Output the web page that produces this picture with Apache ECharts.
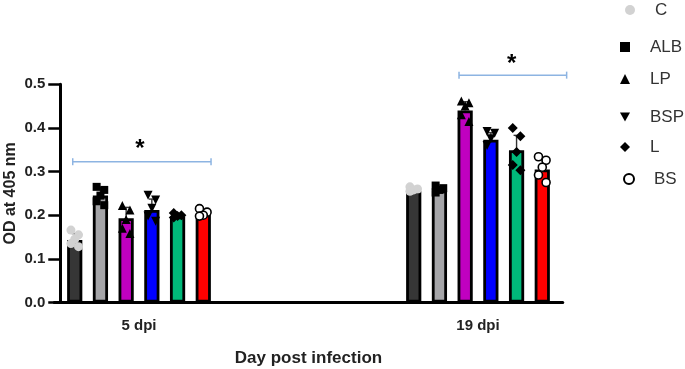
<!DOCTYPE html>
<html>
<head>
<meta charset="utf-8">
<script src="https://cdn.jsdelivr.net/npm/echarts@6/dist/echarts.min.js"></script>
<style>html,body{margin:0;padding:0;background:#fff}#c{width:685px;height:369px}</style>
</head>
<body>
<div id="c"></div>
<script>
// ---- data ----
const categories = ['5 dpi', '', '19 dpi'];
const groups = ['C', 'ALB', 'LP', 'BSP', 'L', 'BS'];
const meanC   = [0.143, '-', 0.255];
const meanALB = [0.245, '-', 0.257];
const meanLP  = [0.193, '-', 0.440];
const meanBSP = [0.212, '-', 0.373];
const meanL   = [0.197, '-', 0.349];
const meanBS  = [0.202, '-', 0.305];
const errC   = [0.015, '-', 0.006];
const errALB = [0.018, '-', 0.006];
const errLP  = [0.025, '-', 0.020];
const errBSP = [0.025, '-', 0.016];
const errL   = [0.005, '-', 0.034];
const errBS  = [0.008, '-', 0.025];
const ptsC   = [[0.166, 0.155, 0.145, 0.135, 0.128], [], [0.265, 0.260, 0.258, 0.255]];
const ptsALB = [[0.265, 0.258, 0.245, 0.232, 0.223], [], [0.268, 0.262, 0.258, 0.252]];
const ptsLP  = [[0.222, 0.212, 0.190, 0.170, 0.158], [], [0.462, 0.458, 0.450, 0.430, 0.415]];
const ptsBSP = [[0.246, 0.235, 0.216, 0.198, 0.186], [], [0.392, 0.388, 0.375, 0.360]];
const ptsL   = [[0.205, 0.200, 0.198, 0.195], [], [0.400, 0.381, 0.345, 0.315, 0.303]];
const ptsBS  = [[0.215, 0.207, 0.200, 0.198], [], [0.334, 0.326, 0.310, 0.292, 0.275]];
const yTicks = [0, 0.1, 0.2, 0.3, 0.4, 0.5];
// significance brackets: [from, to, y] in category units; asterisks [x, y]
const brackets = [[0.109, 0.925, 0.3226], [2.388, 3.023, 0.521]];
const stars = [[0.506, 0.352], [2.699, 0.546]];

// ---- style ----
const means = [meanC, meanALB, meanLP, meanBSP, meanL, meanBS];
const errs = [errC, errALB, errLP, errBSP, errL, errBS];
const pts = [ptsC, ptsALB, ptsLP, ptsBSP, ptsL, ptsBS];
const barColors = ['#363636', '#a5a5a8', '#c000c0', '#0000ff', '#00b97a', '#ff0000'];
const INV_TRI = 'path://M0,0 L10,0 L5,9 Z';
const symbols = ['circle', 'rect', 'triangle', INV_TRI, 'diamond', 'circle'];
const symSize = [9, 8, 9, 9, 10, 8];
const symFill = ['#d2d2d2', '#000', '#000', '#000', '#000', '#ffffff'];
const symBorder = [0, 0, 0, 0, 0, 1.6];
const legendSym = [[630, 10], [625, 47], [625, 79], [625, 117], [625, 147], [628, 179]];
const FONT = 'Liberation Sans, Arial, sans-serif';
const BAR_W = 0.0897, BAR_GAP = 0.691, N = groups.length;
const step = BAR_W * (1 + BAR_GAP);
const jitter = [-0.25, 0.25, 0, -0.25, 0.25];
function barCenter(cat, i) { return cat + 0.5 + (i - (N - 1) / 2) * step; }

const series = [];
groups.forEach((g, i) => {
  series.push({
    name: g + '_bar', type: 'bar', xAxisIndex: 0, yAxisIndex: 0,
    data: means[i], barWidth: (BAR_W * 100) + '%', barGap: (BAR_GAP * 100) + '%',
    itemStyle: { color: barColors[i], borderColor: '#000', borderWidth: 2.8 },
    z: 2, silent: true
  });
});
const errData = [];
groups.forEach((g, i) => {
  means[i].forEach((m, c) => {
    if (m === '-') return;
    errData.push([barCenter(c, i), m, m + errs[i][c]]);
  });
});
series.push({
  type: 'custom', xAxisIndex: 1, yAxisIndex: 0, z: 3, silent: true,
  data: errData,
  renderItem: function (params, api) {
    const p0 = api.coord([api.value(0), api.value(1)]);
    const p1 = api.coord([api.value(0), api.value(2)]);
    const cap = 3;
    return { type: 'group', children: [
      { type: 'line', shape: { x1: p0[0], y1: p0[1], x2: p1[0], y2: p1[1] }, style: { stroke: '#333', lineWidth: 1.4 } },
      { type: 'line', shape: { x1: p1[0] - cap, y1: p1[1], x2: p1[0] + cap, y2: p1[1] }, style: { stroke: '#333', lineWidth: 1.4 } }
    ]};
  }
});
groups.forEach((g, i) => {
  const d = [];
  pts[i].forEach((arr, c) => {
    arr.forEach((v, k) => { d.push([barCenter(c, i) + jitter[k % jitter.length] * BAR_W, v]); });
  });
  series.push({
    name: g, type: 'scatter', xAxisIndex: 1, yAxisIndex: 0, data: d,
    symbol: symbols[i], symbolSize: symSize[i],
    itemStyle: { color: symFill[i], borderColor: '#000', borderWidth: symBorder[i], opacity: 1 },
    z: 4, silent: true
  });
});
series.push({
  type: 'custom', xAxisIndex: 1, yAxisIndex: 0, z: 5, silent: true,
  data: brackets,
  renderItem: function (params, api) {
    const a = api.coord([api.value(0), api.value(2)]);
    const b = api.coord([api.value(1), api.value(2)]);
    const st = { stroke: '#8db4e2', lineWidth: 1.5 };
    return { type: 'group', children: [
      { type: 'line', shape: { x1: a[0], y1: a[1], x2: b[0], y2: b[1] }, style: st },
      { type: 'line', shape: { x1: a[0], y1: a[1] - 3.5, x2: a[0], y2: a[1] + 3.5 }, style: st },
      { type: 'line', shape: { x1: b[0], y1: b[1] - 3.5, x2: b[0], y2: b[1] + 3.5 }, style: st }
    ]};
  }
});
series.push({
  type: 'custom', xAxisIndex: 1, yAxisIndex: 0, z: 5, silent: true,
  data: stars,
  renderItem: function (params, api) {
    const p = api.coord([api.value(0), api.value(1)]);
    return { type: 'text', x: p[0], y: p[1], style: { text: '*', fill: '#000', font: 'bold 24px ' + FONT, align: 'center', verticalAlign: 'middle' } };
  }
});

const legends = groups.map((g, i) => ({
  data: [g], orient: 'vertical', left: legendSym[i][0] - 5, top: legendSym[i][1] - 9,
  itemWidth: 10, itemHeight: 10, selectedMode: false, padding: 0,
  textStyle: { fontSize: 17, color: '#333', fontFamily: FONT, lineHeight: 18, padding: [0, 0, 0, 15] }
}));

const option = {
  animation: false,
  backgroundColor: '#fff',
  grid: { left: 54.25, right: 122.25, top: 84.3, bottom: 66.5, containLabel: false, outerBoundsMode: 'none' },
  legend: legends,
  xAxis: [{
    type: 'category', data: categories,
    axisLine: { lineStyle: { color: '#000', width: 3 } },
    axisTick: { alignWithLabel: true, length: 8, lineStyle: { color: '#000', width: 2.5 } },
    axisLabel: { fontSize: 15, fontWeight: 'bold', color: '#222', fontFamily: FONT, margin: 16 },
    name: 'Day post infection', nameLocation: 'middle', nameGap: 47, nameMoveOverlap: false,
    nameTextStyle: { fontSize: 17, fontWeight: 'bold', color: '#222', fontFamily: FONT }
  }, {
    type: 'value', min: 0, max: 3, show: false
  }],
  yAxis: [{
    type: 'value', min: 0, max: 0.5, interval: 0.1, offset: -6,
    axisLine: { show: true, lineStyle: { color: '#000', width: 3 } },
    axisTick: { show: true, length: 12, lineStyle: { color: '#000', width: 2.5 } },
    splitLine: { show: false },
    axisLabel: { fontSize: 15, fontWeight: 'bold', color: '#222', fontFamily: FONT, margin: 15,
      formatter: v => (yTicks.indexOf(Math.round(v * 10) / 10) >= 0 ? v.toFixed(1) : '') },
    name: 'OD at 405 nm', nameLocation: 'middle', nameGap: 42, nameMoveOverlap: false,
    nameTextStyle: { fontSize: 16, fontWeight: 'bold', color: '#222', fontFamily: FONT }
  }],
  series: series
};
const chart = echarts.init(document.getElementById('c'), null, { renderer: 'canvas' });
chart.setOption(option);
</script>
</body>
</html>
